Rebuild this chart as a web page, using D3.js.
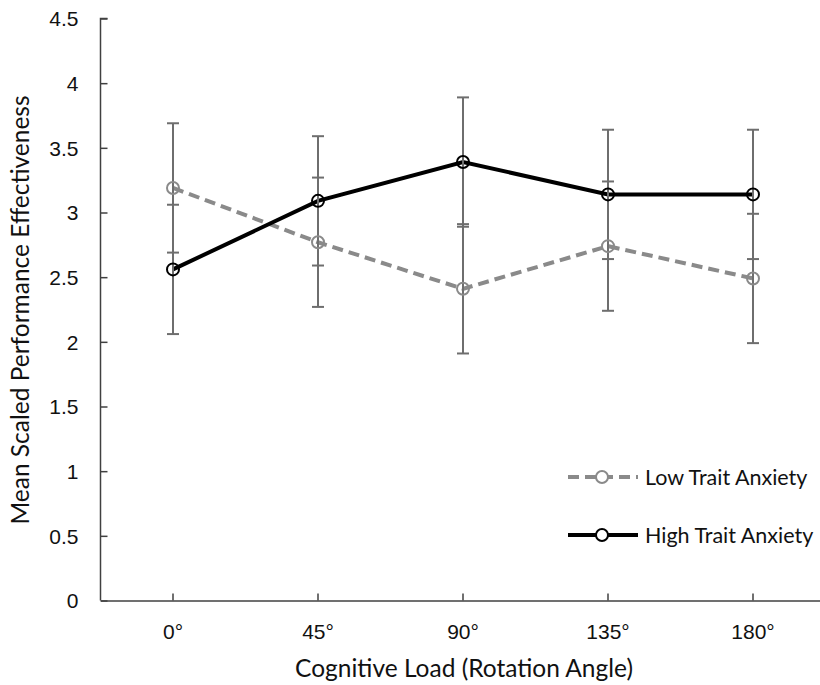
<!DOCTYPE html>
<html><head><meta charset="utf-8">
<script src="https://cdn.jsdelivr.net/npm/d3@7"></script>
<style>body{margin:0;background:#fff;} svg{display:block;font-family:Lato, "Open Sans", sans-serif;}</style>
</head><body>
<svg id="c" width="820" height="685"></svg>
<script>
const categories = ["0°","45°","90°","135°","180°"];
const lowValues = [3.19, 2.77, 2.41, 2.74, 2.49];
const lowErrors = [0.5, 0.5, 0.5, 0.5, 0.5];
const highValues = [2.56, 3.09, 3.39, 3.14, 3.14];
const highErrors = [0.5, 0.5, 0.5, 0.5, 0.5];
const yTicks = [0,0.5,1,1.5,2,2.5,3,3.5,4,4.5];
const seriesNames = ["Low Trait Anxiety","High Trait Anxiety"];

const svg = d3.select("#c");
const x = d3.scaleBand().domain(categories).range([100.5, 825.5]);
const y = d3.scaleLinear().domain([0,4.5]).range([600.5,18.5]);
const cx = d => x(d) + x.bandwidth()/2;

const axisColor = "#404040";
const textColor = "#111";
// Y axis
const ya = svg.append("g").attr("transform","translate(100.5,0)")
  .call(d3.axisRight(y).tickValues(yTicks).tickSize(7).tickFormat(d=>String(d)));
ya.select(".domain").attr("stroke",axisColor).attr("stroke-width",1.5).attr("d","M7,18.5H0V600.5");
ya.selectAll(".tick line").attr("stroke",axisColor).attr("stroke-width",1.5);
ya.selectAll(".tick text").attr("x",-22).attr("text-anchor","end").attr("font-size",21).attr("fill",textColor).attr("dy","0.35em");

// X axis
const xa = svg.append("g").attr("transform","translate(0,600.5)")
  .call(d3.axisTop(x).tickSize(7).tickSizeOuter(0));
xa.select(".domain").attr("stroke",axisColor).attr("stroke-width",1.5);
xa.selectAll(".tick line").attr("stroke",axisColor).attr("stroke-width",1.5);
xa.selectAll(".tick text").attr("y",38.5).attr("dy",0).attr("font-size",21).attr("fill",textColor);

// titles
svg.append("text").attr("x",464).attr("y",677).attr("text-anchor","middle").attr("font-size",24.5).attr("fill",textColor).text("Cognitive Load (Rotation Angle)");
svg.append("text").attr("transform","translate(29,310) rotate(-90)").attr("text-anchor","middle").attr("font-size",24.5).attr("fill",textColor).text("Mean Scaled Performance Effectiveness");

const line = d3.line().x((d,i)=>cx(categories[i])).y(d=>y(d));
const lowColor = "#8a8a8a", highColor = "#000";

svg.append("path").datum(lowValues).attr("d",line).attr("fill","none").attr("stroke",lowColor).attr("stroke-width",4).attr("stroke-dasharray","11,6");
svg.append("path").datum(highValues).attr("d",line).attr("fill","none").attr("stroke",highColor).attr("stroke-width",4);

// error bars
function errBars(vals, errs){
  const g = svg.append("g").attr("stroke","#6e6e6e").attr("stroke-width",2);
  vals.forEach((v,i)=>{
    const xx = cx(categories[i]);
    g.append("line").attr("x1",xx).attr("x2",xx).attr("y1",y(v+errs[i])).attr("y2",y(v-errs[i]));
    [v+errs[i], v-errs[i]].forEach(e=>{
      g.append("line").attr("x1",xx-6).attr("x2",xx+6).attr("y1",y(e)).attr("y2",y(e));
    });
  });
}
errBars(lowValues, lowErrors);
errBars(highValues, highErrors);

function markers(vals, color){
  svg.append("g").selectAll("circle").data(vals).join("circle")
    .attr("cx",(d,i)=>cx(categories[i])).attr("cy",d=>y(d)).attr("r",6)
    .attr("fill","none").attr("stroke",color).attr("stroke-width",2);
}
markers(lowValues, lowColor);
markers(highValues, highColor);

// legend
const leg = [{name:seriesNames[0],color:lowColor,dash:"11,6",y:477},{name:seriesNames[1],color:highColor,dash:null,y:535}];
leg.forEach(l=>{
  svg.append("line").attr("x1",568).attr("x2",638).attr("y1",l.y).attr("y2",l.y)
    .attr("stroke",l.color).attr("stroke-width",4).attr("stroke-dasharray",l.dash);
  svg.append("circle").attr("cx",602).attr("cy",l.y).attr("r",6).attr("fill","#fff").attr("stroke",l.color).attr("stroke-width",2);
  svg.append("text").attr("x",645).attr("y",l.y).attr("dy","0.35em").attr("font-size",21.5).attr("fill",textColor).text(l.name);
});
</script>
</body></html>
